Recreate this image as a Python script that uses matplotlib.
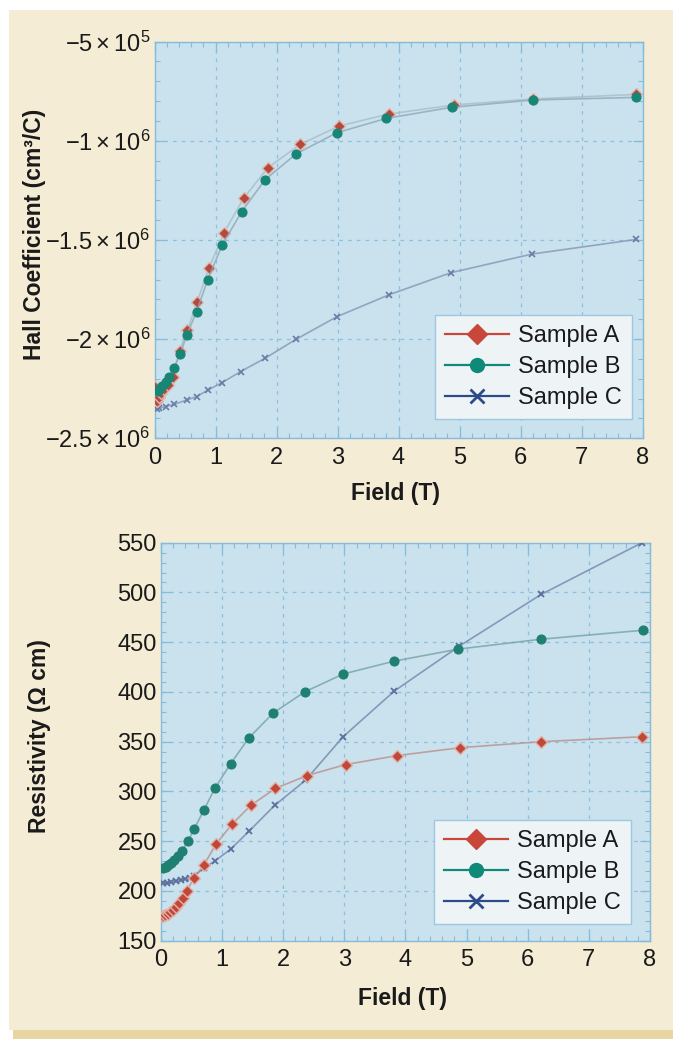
#!/usr/bin/env python3
import matplotlib
matplotlib.use('Agg')
from matplotlib import pyplot as plt
from matplotlib.lines import Line2D
from matplotlib.patches import Rectangle
from matplotlib.ticker import MultipleLocator, FixedLocator, FixedFormatter

plt.rcParams['font.family'] = ['Liberation Sans', 'DejaVu Sans']
plt.rcParams['mathtext.fontset'] = 'custom'
plt.rcParams['mathtext.rm'] = 'Liberation Sans'
plt.rcParams['mathtext.it'] = 'Liberation Sans:italic'
plt.rcParams['mathtext.bf'] = 'Liberation Sans:bold'

# ---- Hall coefficient (units of 1e6 cm^3/C) ----
hall_field_a = [0.0, 0.01, 0.04, 0.07, 0.11, 0.16, 0.22, 0.30, 0.41, 0.54, 0.70, 0.89,
                1.14, 1.46, 1.86, 2.39, 3.03, 3.84, 4.91, 6.21, 7.90]
hall_a = [-2.24, -2.30, -2.31, -2.29, -2.27, -2.25, -2.23, -2.19, -2.06, -1.954, -1.811, -1.643,
          -1.463, -1.290, -1.135, -1.018, -0.925, -0.865, -0.819, -0.789, -0.766]

hall_field_b = [0.05, 0.07, 0.13, 0.18, 0.23, 0.32, 0.42, 0.53, 0.69, 0.87, 1.11, 1.43,
                1.81, 2.32, 2.99, 3.80, 4.87, 6.21, 7.90]
hall_b = [-2.26, -2.25, -2.235, -2.215, -2.19, -2.145, -2.076, -1.979, -1.861, -1.702, -1.525, -1.357,
          -1.197, -1.066, -0.959, -0.887, -0.831, -0.794, -0.781]

hall_field_c = [0.04, 0.08, 0.18, 0.32, 0.53, 0.69, 0.88, 1.11, 1.41, 1.81, 2.32, 2.99,
                3.84, 4.86, 6.19, 7.90]
hall_c = [-2.354, -2.349, -2.340, -2.329, -2.307, -2.290, -2.256, -2.219, -2.164, -2.097, -2.001, -1.887,
          -1.777, -1.665, -1.571, -1.497]

# ---- Resistivity (ohm cm) ----
res_field_a = [0.0, 0.03, 0.07, 0.11, 0.15, 0.20, 0.25, 0.30, 0.36, 0.42, 0.54, 0.70, 0.90,
               1.16, 1.47, 1.87, 2.39, 3.02, 3.86, 4.90, 6.22, 7.87]
res_a = [175, 175, 176, 177, 179, 181, 184, 188, 193, 200, 213, 226, 247,
         267, 286, 303, 316, 327, 336, 344, 350, 355]

res_field_b = [0.04, 0.08, 0.12, 0.17, 0.22, 0.28, 0.34, 0.44, 0.54, 0.70, 0.88, 1.14,
               1.44, 1.84, 2.35, 2.98, 3.82, 4.86, 6.22, 7.89]
res_b = [223, 224, 226, 228, 231, 235, 240, 250, 262, 281, 303, 328,
         354, 379, 400, 418, 431, 443, 453, 462]

res_field_c = [0.04, 0.10, 0.16, 0.24, 0.32, 0.40, 0.47, 0.54, 0.70, 0.88, 1.14, 1.44,
               1.86, 2.36, 2.98, 3.82, 4.88, 6.22, 7.87]
res_c = [208, 208, 209, 210, 211, 212, 213, 215, 223, 230, 242, 260,
         286, 311, 355, 401, 446, 498, 550]

hall_ticks = [-2.5e6, -2e6, -1.5e6, -1e6, -5e5]
hall_tick_labels = [r'$-2.5\times10^{6}$', r'$-2\times10^{6}$', r'$-1.5\times10^{6}$',
                    r'$-1\times10^{6}$', r'$-5\times10^{5}$']
labels = ['Sample A', 'Sample B', 'Sample C']

col_a = '#c9473a'
col_b = '#0f8a78'
col_c = '#2b4b8a'
spine_col = '#86bbdc'
face_col = '#c9e2ee'

fig = plt.figure(figsize=(6.73, 10.39), dpi=100)
fig.patch.set_facecolor('white')
fig.patches.append(Rectangle((13 / 673, 0), 660 / 673, 12 / 1039, transform=fig.transFigure,
                             facecolor='#e8d6a2', edgecolor='none', zorder=-2))
fig.patches.append(Rectangle((9 / 673, 9 / 1039), 664 / 673, 1020 / 1039, transform=fig.transFigure,
                             facecolor='#f4ecd5', edgecolor='none', zorder=-1))

ax1 = fig.add_axes([0.2296, 0.5782, 0.7251, 0.3817])
ax2 = fig.add_axes([0.2392, 0.0946, 0.7266, 0.3831])


def style_axes(ax):
    ax.set_facecolor(face_col)
    for s in ax.spines.values():
        s.set_color(spine_col)
        s.set_linewidth(1.0)
    ax.tick_params(which='both', direction='in', top=True, right=True, color=spine_col,
                   labelsize=17, labelcolor='#1a1a1a')
    ax.tick_params(which='major', length=7, width=0.9)
    ax.tick_params(which='minor', length=3.5, width=0.8)
    ax.tick_params(axis='x', pad=6)
    ax.tick_params(axis='y', pad=3)
    ax.grid(True, which='major', color='#8fc0dd', linestyle=(0, (3, 4)), linewidth=0.9)
    ax.set_axisbelow(True)
    ax.xaxis.set_major_locator(MultipleLocator(1))
    ax.xaxis.set_minor_locator(MultipleLocator(0.2))
    ax.set_xlim(0, 8)


def add_legend(ax, anchor):
    handles = [Line2D([], [], color=col_a, marker='D', markersize=10, lw=1.6),
               Line2D([], [], color=col_b, marker='o', markersize=10, lw=1.6),
               Line2D([], [], color=col_c, marker='x', markersize=10, mew=2, lw=1.6)]
    leg = ax.legend(handles, labels, loc='lower right', bbox_to_anchor=anchor, fontsize=17,
                    frameon=True, fancybox=False, framealpha=1, facecolor='#eef3f6',
                    edgecolor='#9cc8e2', handlelength=2.7, handletextpad=0.4,
                    labelspacing=0.38, borderpad=0.42, borderaxespad=0)
    leg.get_frame().set_linewidth(1.0)
    for t in leg.get_texts():
        t.set_color('#1a1a1a')


def plot_series(ax, x, y, line_col, marker, mfc, mec, ms, mew, z):
    ax.plot(x, y, color=line_col, lw=1.2, alpha=0.75, zorder=z)
    ax.plot(x, y, ls='none', marker=marker, markersize=ms, mfc=mfc, mec=mec, mew=mew, zorder=z + 0.5)


# top panel: Hall coefficient
style_axes(ax1)
plot_series(ax1, hall_field_c, [v * 1e6 for v in hall_c], '#8090b0', 'x', '#6a7ca6', '#6a7ca6', 4, 1.2, 3)
plot_series(ax1, hall_field_a, [v * 1e6 for v in hall_a], '#a9bac4', 'D', '#b5493e', '#e0b8ae', 6.5, 1.0, 4)
plot_series(ax1, hall_field_b, [v * 1e6 for v in hall_b], '#8aa5b3', 'o', '#178676', '#178676', 6.5, 0.8, 5)
ax1.set_ylim(-2.5e6, -5e5)
ax1.yaxis.set_major_locator(FixedLocator(hall_ticks))
ax1.yaxis.set_major_formatter(FixedFormatter(hall_tick_labels))
ax1.yaxis.set_minor_locator(MultipleLocator(1e5))
ax1.set_xlabel('Field (T)', fontsize=16.5, fontweight='bold', color='#1a1a1a')
ax1.set_ylabel('Hall Coefficient (cm³/C)', fontsize=16.5, fontweight='bold', color='#1a1a1a')
ax1.xaxis.set_label_coords(0.493, -0.11)
ax1.yaxis.set_label_coords(-0.222, 0.513)
add_legend(ax1, (0.9785, 0.0487))

# bottom panel: resistivity
style_axes(ax2)
plot_series(ax2, res_field_c, res_c, '#6f7fa6', 'x', '#5d6f9c', '#5d6f9c', 5, 1.3, 3)
plot_series(ax2, res_field_b, res_b, '#6f9fa2', 'o', '#1f7f70', '#1f7f70', 6.5, 0.8, 4)
plot_series(ax2, res_field_a, res_a, '#b88a86', 'D', '#c0483b', '#e2b0a6', 6.5, 1.0, 5)
ax2.set_ylim(150, 550)
ax2.yaxis.set_major_locator(MultipleLocator(50))
ax2.yaxis.set_minor_locator(MultipleLocator(10))
ax2.set_xlabel('Field (T)', fontsize=16.5, fontweight='bold', color='#1a1a1a')
ax2.set_ylabel('Resistivity (Ω cm)', fontsize=16.5, fontweight='bold', color='#1a1a1a')
ax2.xaxis.set_label_coords(0.493, -0.1156)
ax2.yaxis.set_label_coords(-0.225, 0.513)
add_legend(ax2, (0.961, 0.042))

fig.savefig('out.png', dpi=100)
